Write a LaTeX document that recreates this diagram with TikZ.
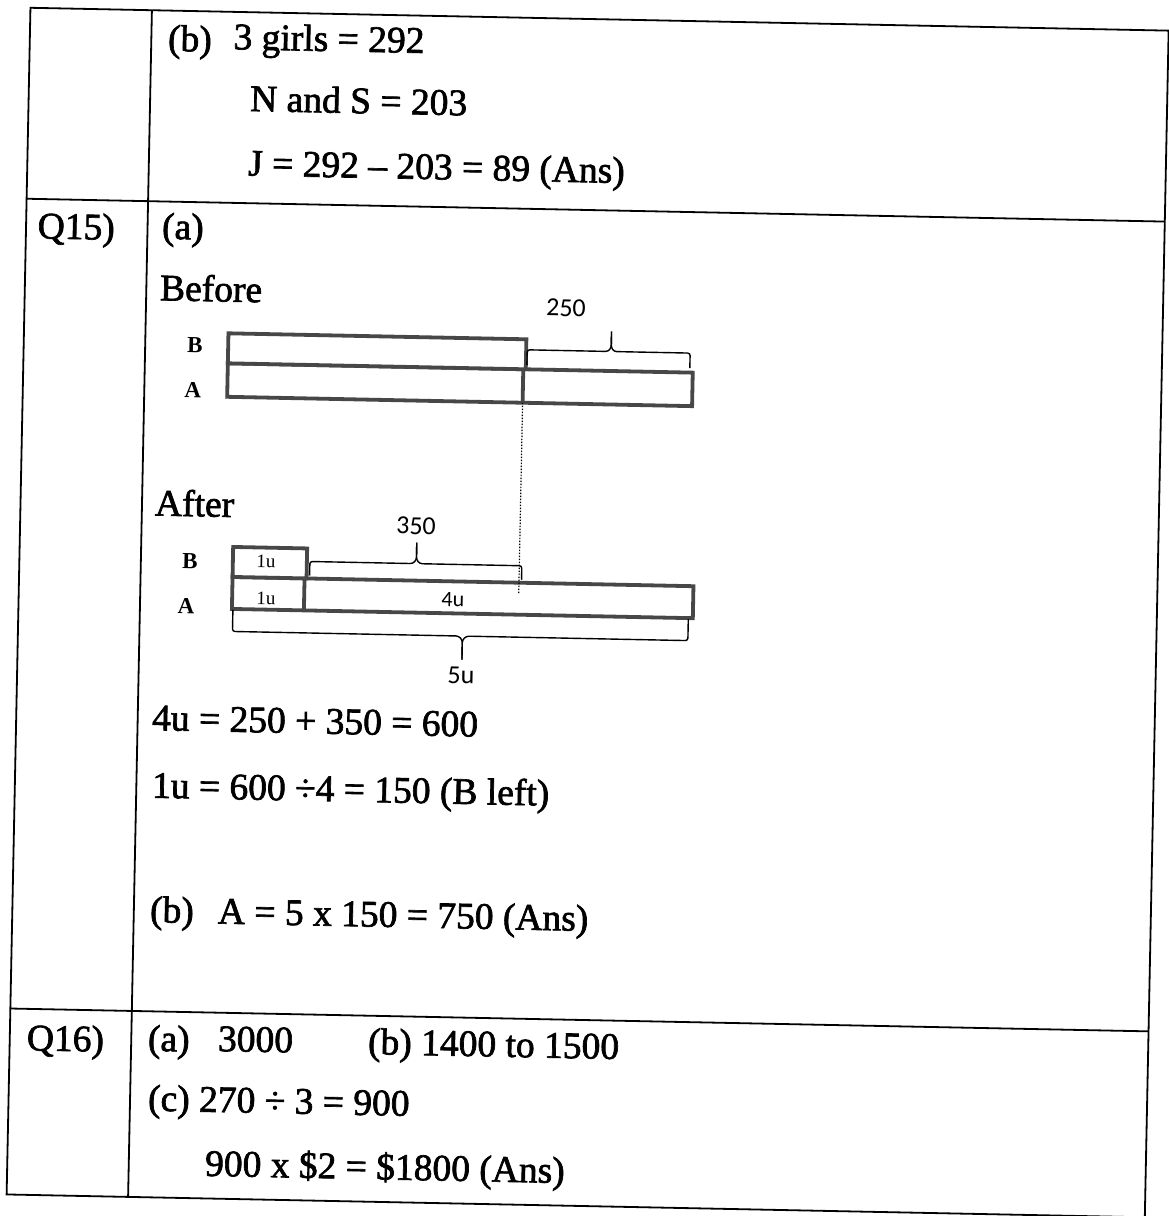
\documentclass[tikz,border=0pt]{standalone}
\usepackage{fontspec}
\setmainfont{Liberation Serif}
\newfontfamily\scan{Liberation Serif}[FakeBold=1.8]
\newfontfamily\calib{Carlito}
\usetikzlibrary{calc}

\begin{document}
\begin{tikzpicture}[x=1pt,y=-1pt,
  tableline/.style={line width=1.8pt,black},
  barbox/.style={draw=black!72,line width=3.8pt,fill=white},
  bracket/.style={line width=1.4pt,rounded corners=2.5pt},
  txt/.style={anchor=mid west,inner sep=0pt,font=\scan\fontsize{37.5}{40}\selectfont},
  lbl/.style={inner sep=0pt,font=\bfseries\fontsize{23}{26}\selectfont},
  num/.style={inner sep=0pt,font=\calib\fontsize{26}{30}\selectfont},
  unit/.style={inner sep=0pt,font=\fontsize{19}{22}\selectfont}]
\useasboundingbox (0,0) rectangle (1168,1216);
\begin{scope}[rotate around={-1.15:(584,608)},transform shape]
\coordinate (tl) at (18.5,19);
\coordinate (br) at (1157,1206);
\coordinate (q0) at (140,19);
\coordinate (q1) at (140,1206);
\coordinate (r0) at (18.5,210);
\coordinate (r1) at (1157,210);
\coordinate (s0) at (18.5,1020);
\coordinate (s1) at (1157,1020);

\draw[tableline] (tl) rectangle (br);
\draw[tableline] (q0) -- (q1);
\draw[tableline] (r0) -- (r1) (s0) -- (s1);

% Q14 (b)
\node[txt] (b14) at (156.6,57) {(b)};
\node[txt] (girls) at (222,54) {3 girls = 292};
\node[txt] (ns) at (239.9,115.5) {N and S = 203};
\node[txt] (jay) at (239.2,180) {J = 292 – 203 = 89 (Ans)};

% Q15
\node[txt] (q15) at (30,247) {Q15)};
\node[txt] (a15) at (154.4,245) {(a)};
\node[txt] (before) at (153.6,306.5) {Before};
\node[txt] (after) at (152.9,521.8) {After};

\node[lbl] (lb1) at (189.7,352.8) {B};
\node[lbl] (la1) at (188.6,397.8) {A};
\node[lbl] (lb2) at (189,568.9) {B};
\node[lbl] (la2) at (186,614) {A};

% before bars
\draw[barbox] (223,370.5) rectangle (688,404);
\draw[barbox] (223,340.5) rectangle (521,370.5);
\draw[barbox] (518.5,370.5) -- (518.5,404);

% after bars
\draw[barbox] (232,584) rectangle (693,616);
\draw[barbox] (232,554) rectangle (306,584);
\draw[barbox] (304,584) -- (304,616);

\coordinate (dtop) at (518.5,404);
\coordinate (dbot) at (518.5,596);
\draw[line width=1.2pt,dash pattern=on 1.5pt off 1.5pt] (dtop) -- (dbot);

% braces
\draw[bracket] (522,366) -- (522,351) -- (603,351) -- (606,347) -- (606,331);
\draw[bracket] (606,331) -- (606,347) -- (609,351) -- (685,351) -- (685,366);
\draw[bracket] (309,581) -- (309,567) -- (412,567) -- (415.5,563) -- (415.5,546);
\draw[bracket] (415.5,546) -- (415.5,563) -- (419,567) -- (521,567) -- (521,581);
\draw[bracket] (233,617) -- (233,638.5) -- (459,638.5) -- (463,642.5) -- (463,662);
\draw[bracket] (463,662) -- (463,642.5) -- (467,638.5) -- (688.5,638.5) -- (688.5,617);

\node[num] (n250) at (560,308.4) {250};
\node[num] (n350) at (414.4,529.4) {350};
\node[num] (n5u) at (462.3,677.5) {5u};
\node[inner sep=0pt,font=\calib\fontsize{22}{24}\selectfont] (n4u) at (452.8,602.6) {4u};
\node[unit] (u1b) at (265,567.4) {1u};
\node[unit] (u1a) at (265.8,604.4) {1u};

\node[txt] (eq1) at (154.3,736.5) {4u = 250 + 350 = 600};
\node[txt] (eq2) at (155.6,804) {1u = 600 ÷4 = 150 (B left)};
\node[txt] (b15) at (156.1,928.5) {(b)};
\node[txt] (eq3) at (224,928.5) {A = 5 x 150 = 750 (Ans)};

% Q16
\node[txt] (q16) at (35.5,1059) {Q16)};
\node[txt] (a16) at (156.6,1057.2) {(a)};
\node[txt] (n3000) at (226.6,1056) {3000};
\node[txt] (b16) at (376.7,1056) {(b) 1400 to 1500};
\node[txt] (c16) at (157.9,1117) {(c) 270 ÷ 3 = 900};
\node[txt] (ans16) at (216.2,1181) {900 x \$2 = \$1800 (Ans)};
\end{scope}
\end{tikzpicture}
\end{document}
